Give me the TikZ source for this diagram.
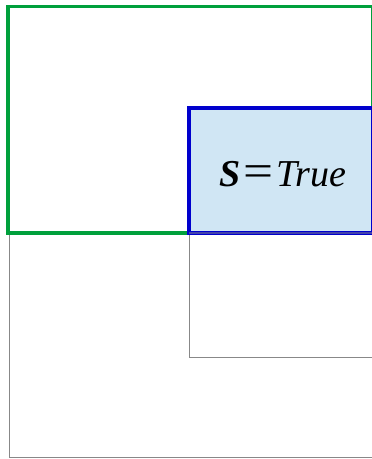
\documentclass[tikz,border=0pt]{standalone}
\usepackage{fontspec}
\usepackage{graphicx}
\setmainfont{Liberation Serif}
\definecolor{grn}{RGB}{0,160,60}
\definecolor{blu}{RGB}{0,0,205}
\definecolor{lblu}{RGB}{208,230,244}
\definecolor{gry}{RGB}{136,136,136}
\begin{document}
\begin{tikzpicture}[x=1pt,y=1pt,
  graybox/.style={draw=gry,line width=1pt},
  greenbox/.style={draw=grn,line width=3.5pt},
  bluebox/.style={draw=blu,fill=lblu,line width=3.5pt}]
\useasboundingbox (0,0) rectangle (372,459);
\clip (0,0) rectangle (372,459);
% lower gray boxes
\draw[graybox] (9.7,1) rectangle (380,226);
\draw[graybox] (189.2,101) rectangle (380,226);
% green box
\draw[greenbox] (8.2,226) rectangle (372.5,452.5);
% blue box
\draw[bluebox] (189,226) rectangle (372.5,350.8);
\node[font=\fontsize{38}{44}\selectfont,anchor=base,inner sep=0pt] (lbl) at (282.5,272) {\textbf{\textit{S}}\hspace{0.08em}\scalebox{1.4}[1.2]{=}\hspace{0.08em}\textit{True}};
\draw[draw=gry!50!blu,line width=1.2pt] (189,226) -- (372,226);
\end{tikzpicture}
\end{document}
